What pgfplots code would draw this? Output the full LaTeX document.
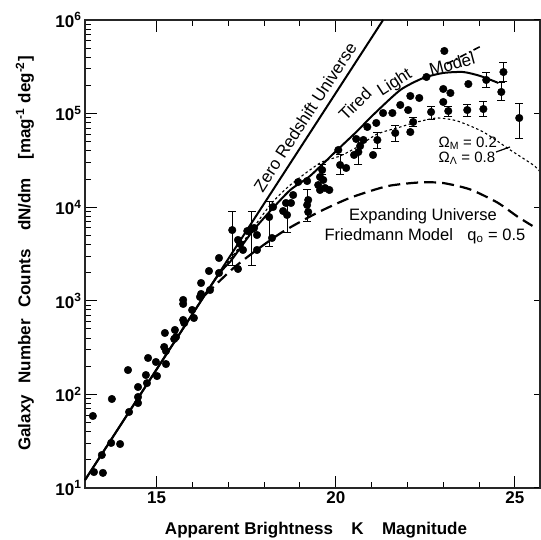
\documentclass[border=0pt]{standalone}
\usepackage{pgfplots}
\pgfplotsset{compat=1.18}
\usepackage{pgfplotstable}
\usepackage{fontspec}
\setmainfont{Liberation Sans}

\pgfplotstableread{
m n
13.25 14.8
13.50 14.5
13.22 58.8
13.47 22.5
13.73 30.3
13.98 29.5
13.75 89.3
14.20 182
14.23 64.9
14.48 120
14.48 93.8
14.48 80.9
14.70 161
14.73 132
14.76 245
14.98 222
15.01 157
15.23 453
15.21 321
15.26 291
15.26 211
15.49 391
15.51 488
15.54 410
15.74 1021
15.74 925
15.74 624
15.77 579
15.99 798
16.04 655
16.24 1549
16.24 1183
16.21 1099
16.46 2081
16.49 1304
16.74 2866
16.74 1982
17.27 2188
17.27 4467
17.33 4046
17.41 3491
17.53 5570
17.72 6000
17.80 5047
17.80 3491
18.22 4688
18.25 10050
18.53 9100
18.61 11090
18.75 11090
18.81 13490
18.95 18580
19.20 19040
19.23 8890
19.23 11940
19.56 21020
19.65 19540
19.56 15270
19.70 16030
19.82 15270
19.51 17260
20.07 40840
20.29 26240
20.57 53580
20.77 52240
20.68 45080
20.51 36140
20.88 71940
21.04 36140
21.13 79430
21.32 101400
21.58 101400
21.80 123600
22.02 109200
22.08 154200
22.33 146800
22.08 63550
22.53 246000
23.03 466700
23.00 183200
23.20 166000
23.00 133000
23.70 207000
}\pts

\pgfplotstableread{
m n ep em
17.11 5700 3190 3290
17.66 5850 3040 3440
18.14 7850 3530 4093
18.64 8260 2830 2830
19.20 10560 5080 3440
19.62 24950 3300 2870
20.12 28250 7890 6170
20.63 38900 13340 10650
21.16 52240 9830 9370
21.66 62070 13440 12300
22.16 81280 8460 9340
22.66 104000 16500 18520
23.14 106600 13900 14600
23.67 109200 14400 15010
24.12 111900 21100 19900
24.20 228600 43000 36300
24.68 278000 69300 60400
24.62 170200 42100 30500
25.12 89740 36960 36160
}\errpts

\pgfplotstableread{
m n
13 12.16
21.32 1000000
}\zero

\pgfplotstableread{
m n
13 12.16
16.49 1403
17.05 2600
17.66 5433
18.17 9099
18.73 15280
19.28 21530
20.04 40830
20.60 65160
21.04 96600
21.80 178600
22.44 239900
23.00 271600
23.56 278000
24.03 252400
24.54 212300
}\tired

\pgfplotstableread{
m n
23.10 340000
24.06 527200
}\dashdot

\pgfplotstableread{
m n
16.63 1710
17.33 3846
18.17 10570
18.73 17260
19.56 29650
20.12 35240
20.60 43950
21.16 60530
21.80 71940
22.27 81280
22.83 89740
23.39 83370
24.12 63550
24.87 40840
25.51 28250
25.70 23990
}\lambdam

\pgfplotstableread{
m n
16.35 1153
17.13 2213
17.80 3508
18.53 5495
19.48 8710
20.40 12590
21.44 16790
22.36 18410
23.00 18110
23.75 15490
24.51 11220
25.07 7943
25.49 6310
}\fried

\begin{document}
\begin{tikzpicture}
\useasboundingbox (-85pt,-52pt) rectangle (456pt,488pt);
\begin{axis}[
  at={(0,0)}, anchor=south west, scale only axis,
  width=455pt, height=468pt,
  xmin=13, xmax=25.7, ymode=log, ymin=10, ymax=1e6,
  xtick={15,20,25}, xticklabels={15,20,25}, minor x tick num=4,
  ytick={10,100,1000,10000,100000,1000000},
  yticklabels={10\textsuperscript{1},10\textsuperscript{2},10\textsuperscript{3},10\textsuperscript{4},10\textsuperscript{5},10\textsuperscript{6}},
  ytick pos=left,
  tick align=inside,
  major tick length=12pt, minor tick length=6pt,
  tick style={black, line width=1pt},
  axis line style={black!85, line width=1.3pt},
  tick label style={font=\fontsize{17}{17}\selectfont\bfseries},
  clip=false,
]
\addplot[black, line width=2pt] table[x=m,y=n] {\zero};
\addplot[black, line width=2pt, smooth, tension=0.4] table[x=m,y=n] {\tired};
\addplot[black, line width=1.6pt, dash pattern=on 7pt off 3pt on 2pt off 3pt] table[x=m,y=n] {\dashdot};
\addplot[black, line width=1.1pt, smooth, tension=0.4, dash pattern=on 2.5pt off 2.5pt] table[x=m,y=n] {\lambdam};
\addplot[black, line width=2.2pt, smooth, tension=0.4, dash pattern=on 12pt off 6pt] table[x=m,y=n] {\fried};
\addplot[only marks, mark=*, mark size=3.8pt, black] table[x=m,y=n] {\pts};
\addplot[only marks, mark=*, mark size=3.8pt, black,
  error bars/.cd, y dir=both, y explicit,
  error bar style={line width=1pt, black},
  error mark options={rotate=90, mark size=4pt, line width=1pt, black}]
  table[x=m, y=n, y error plus=ep, y error minus=em] {\errpts};
\end{axis}
\begin{axis}[
  at={(0,0)}, anchor=south west, scale only axis,
  width=455pt, height=468pt,
  xmin=13, xmax=25.7, ymode=log, ymin=10, ymax=1e6,
  hide x axis, axis y line*=right,
  ytick={10,100,1000,10000,100000,1000000}, yticklabels={},
  yminorticks=false, tick align=inside, major tick length=6pt,
  tick style={black, line width=1pt},
  axis line style={black!85, line width=1.3pt},
]
\end{axis}
\node[rotate=57, font=\fontsize{17}{17}\selectfont] at (220pt,371pt) {Zero Redshift Universe};
\node[rotate=45, font=\fontsize{17}{17}\selectfont] at (270pt,384pt) {Tired};
\node[rotate=33, font=\fontsize{17}{17}\selectfont] at (310pt,405pt) {Light};
\node[rotate=15, font=\fontsize{17}{17}\selectfont] at (367pt,424pt) {Model};
\node[anchor=west, font=\fontsize{15}{15}\selectfont] at (350pt,345pt) {Ω\textsubscript{M} = 0.2};
\node[anchor=west, font=\fontsize{15}{15}\selectfont] at (350pt,330pt) {Ω\textsubscript{Λ} = 0.8};
\draw[black, line width=1.2pt] (411pt,336pt) -- (425pt,341pt);
\node[font=\fontsize{16.5}{16.5}\selectfont] at (338pt,272pt) {Expanding Universe};
\node[font=\fontsize{16.5}{16.5}\selectfont] at (340pt,252pt) {Friedmann Model\hspace{0.6em} q\textsubscript{o} = 0.5};
\node[anchor=base, font=\fontsize{17}{17}\selectfont\bfseries] at (231pt,-47pt) {Apparent Brightness\hspace{0.8em} K\hspace{0.8em} Magnitude};
\node[rotate=90, font=\fontsize{17}{17}\selectfont\bfseries] at (-60pt,234.5pt) {Galaxy\hspace{0.4em} Number\hspace{0.4em} Counts\hspace{0.8em} dN/dm\hspace{0.8em} [mag\textsuperscript{-1} deg\textsuperscript{-2}]};
\end{tikzpicture}
\end{document}
